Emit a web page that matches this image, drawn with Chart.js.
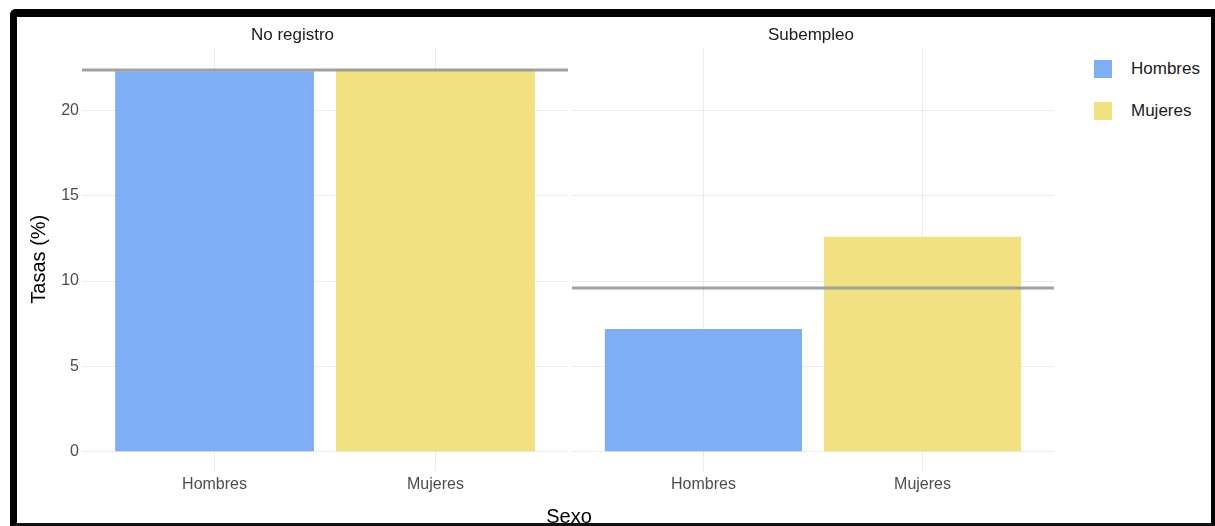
<!DOCTYPE html>
<html>
<head>
<meta charset="utf-8">
<script src="https://cdn.jsdelivr.net/npm/chart.js@4/dist/chart.umd.min.js"></script>
<style>
  html, body { margin: 0; padding: 0; background: #fff; width: 1215px; height: 526px; overflow: hidden; font-family: "Liberation Sans", Arial, sans-serif; }
  .abs { position: absolute; }
  #frame { left: 10px; top: 9px; width: 1205px; height: 517px; box-sizing: border-box;
           border-left: 7px solid #000; border-top: 8px solid #000; border-right: 4px solid #000; border-bottom: 3px solid #111;
           border-top-left-radius: 6px; z-index: 10; pointer-events: none; }
  #xtitle { left: 469px; width: 200px; top: 504px; text-align: center; font-size: 20px; color: #000; line-height: 24px; }
  .leg { left: 1094px; width: 120px; height: 20px; }
  .leg .sw { position: absolute; left: 0; top: 1px; width: 18px; height: 18px; }
  .leg .tx { position: absolute; left: 37px; top: 0; font-size: 17px; line-height: 20px; color: #1a1a1a; white-space: nowrap; }
</style>
</head>
<body>
<canvas id="c1" class="abs" width="551" height="506" style="left:17px;top:17px;"></canvas>
<canvas id="c2" class="abs" width="486" height="506" style="left:568px;top:17px;"></canvas>
<div id="xtitle" class="abs">Sexo</div>
<div id="legend"></div>
<div id="frame" class="abs"></div>
<script>
// ---- data ----
const categories = ["Hombres", "Mujeres"];
const panels = ["No registro", "Subempleo"];
const noRegistroValues = [22.28, 22.40];
const subempleoValues = [7.19, 12.59];
const referenceLines = [22.35, 9.59];
const yTickValues = [0, 5, 10, 15, 20];
const seriesColors = ["#7FAEF5", "#F1E182"];
const yTitle = "Tasas (%)";

const tickColor = "#4d4d4d";
const gridColor = "#ebebeb";

function makeChart(id, title, values, refVal, showY) {
  const barData = values.map((v, i) => ({ x: i, y: v }));
  const lineData = [{ x: -0.6, y: refVal }, { x: categories.length - 0.4, y: refVal }];
  return new Chart(document.getElementById(id), {
    type: 'bar',
    data: {
      datasets: [
        { type: 'line', data: lineData, borderColor: 'rgba(150,150,150,0.9)', borderWidth: 3,
          pointRadius: 0, order: 0, fill: false },
        { type: 'bar', data: barData, backgroundColor: seriesColors, borderWidth: 0,
          barPercentage: 0.9, categoryPercentage: 1.0, order: 1 }
      ]
    },
    options: {
      responsive: false, animation: false, devicePixelRatio: 1,
      layout: { padding: 0 },
      plugins: {
        legend: { display: false }, tooltip: { enabled: false },
        title: { display: true, text: title, color: '#1a1a1a',
                 font: { family: 'Liberation Sans', size: 17, weight: 'normal' },
                 padding: { top: 8, bottom: 2 } }
      },
      scales: {
        x: {
          type: 'linear', min: -0.6, max: categories.length - 0.4, offset: false,
          afterBuildTicks: s => { s.ticks = categories.map((c, i) => ({ value: i })); },
          afterFit: s => { s.height = 52; },
          grid: { color: gridColor, lineWidth: 1, drawTicks: false, offset: false },
          border: { display: false },
          ticks: { color: tickColor, padding: 4, maxRotation: 0, autoSkip: false,
                   font: { family: 'Liberation Sans', size: 16 },
                   callback: v => categories[v] }
        },
        y: {
          type: 'linear', min: -1.12, max: 23.68,
          afterBuildTicks: s => { s.ticks = yTickValues.map(v => ({ value: v })); },
          afterFit: s => { s.width = showY ? 65 : 4; },
          grid: { color: gridColor, lineWidth: 1, drawTicks: false },
          border: { display: false },
          title: { display: showY, text: yTitle, color: '#000',
                   font: { family: 'Liberation Sans', size: 20 }, padding: { top: 10, bottom: 0 } },
          ticks: { display: showY, color: tickColor, padding: 3,
                   font: { family: 'Liberation Sans', size: 16 } }
        }
      }
    }
  });
}

makeChart('c1', panels[0], noRegistroValues, referenceLines[0], true);
makeChart('c2', panels[1], subempleoValues, referenceLines[1], false);

// legend (HTML) built from series
const leg = document.getElementById('legend');
const legTops = [59, 101];
categories.forEach((c, i) => {
  const d = document.createElement('div');
  d.className = 'leg abs';
  d.style.top = legTops[i] + 'px';
  d.innerHTML = '<div class="sw" style="background:' + seriesColors[i] + '"></div><div class="tx">' + c + '</div>';
  leg.appendChild(d);
});
</script>
</body>
</html>
